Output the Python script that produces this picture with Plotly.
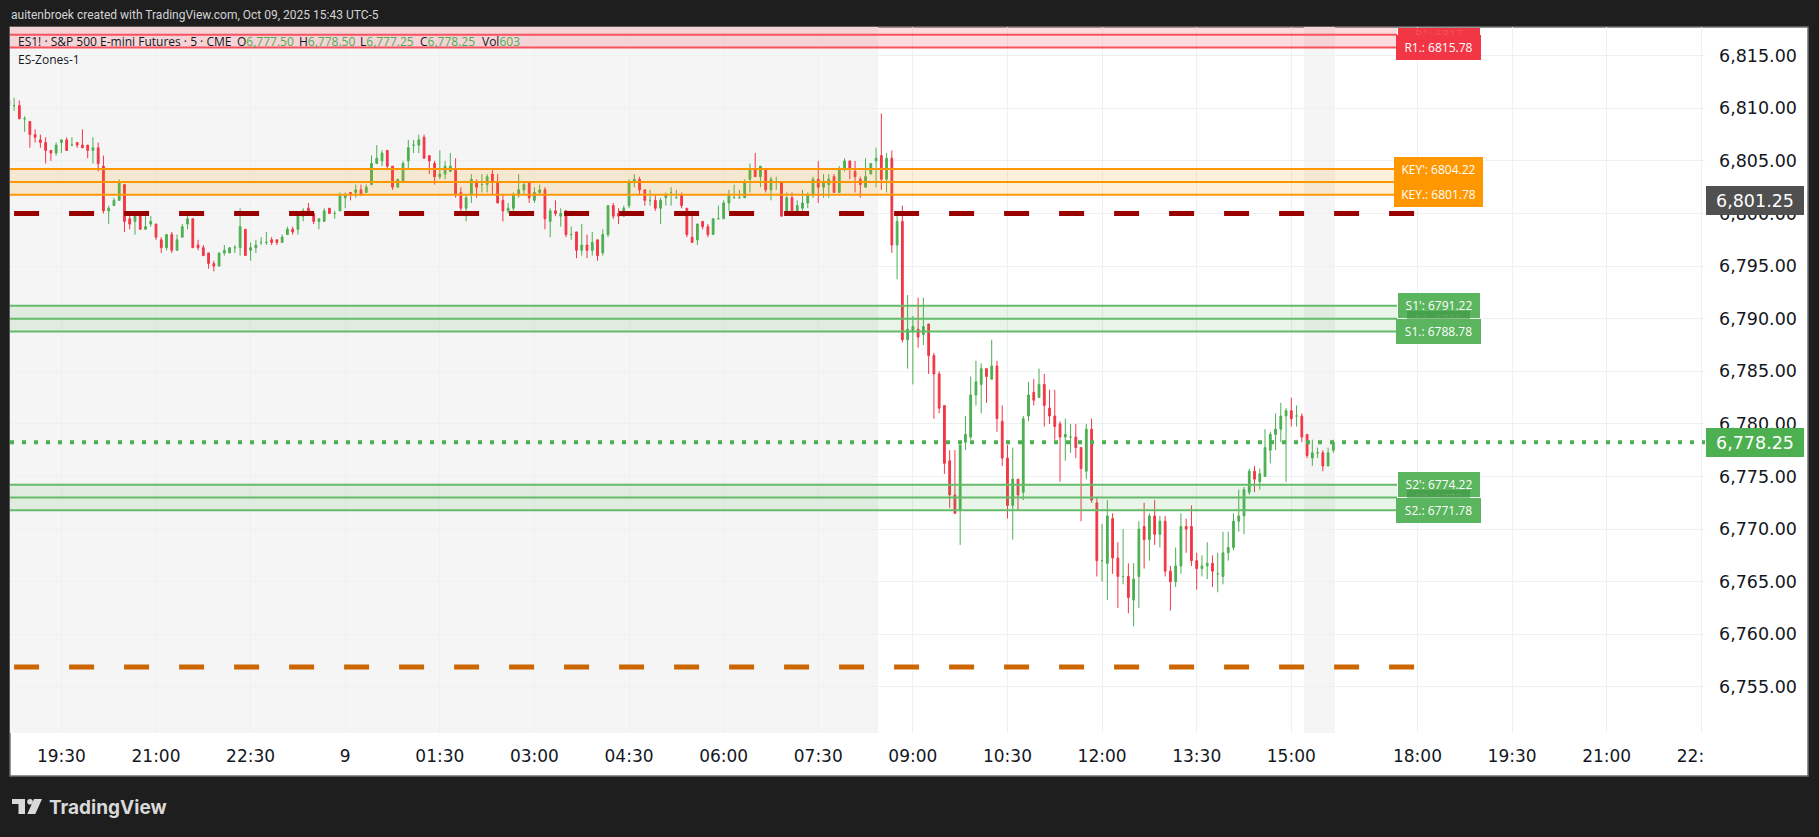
import numpy as np
import plotly.graph_objects as go

# prices are kept as ticks (0.25 pts) away from 6800
BASE = 6800
TICK = 0.25
FIRST_BAR = -10  # bar 0 is the 19:30 candle

open_ticks = [
    43, 41, 41, 36, 35, 30, 28, 27, 24, 23,
    27, 28, 26, 27, 26, 26, 24, 25, 18, 1,
    3, 5, 11, -2, -3, 0, -6, -4, -4, -10,
    -13, -8, -14, -9, -4, -2, -12, -13, -15, -19,
    -20, -15, -15, -13, -13, -6, -14, -13, -11, -11,
    -10, -10, -11, -8, -6, -6, -1, 2, 0, -3,
    -3, 2, 0, 1, 6, 8, 8, 9, 8, 11,
    19, 20, 24, 18, 10, 12, 20, 26, 26, 29,
    22, 19, 14, 15, 16, 17, 8, 2, 7, 12,
    11, 11, 15, 12, 5, 1, 2, 7, 9, 12,
    5, 8, 9, -3, 1, -1, 1, -8, -7, -14,
    -12, -14, -10, -15, -8, 3, 0, -1, 3, 12,
    13, 9, 5, 5, 2, 6, 8, 6, 7, 2,
    -9, -10, -3, -5, -8, -2, -2, 4, 6, 6,
    6, 13, 17, 14, 17, 9, 12, 12, 0, 6,
    1, 2, 4, 7, 13, 10, 11, 14, 8, 17,
    20, 16, 13, 10, 15, 20, 22, 13, 21, -12,
    -3, -48, -45, -44, -46, -42, -54, -61, -73, -94,
    -107, -113, -87, -85, -69, -65, -59, -63, -58, -79,
    -93, -111, -101, -106, -77, -68, -70, -65, -74, -77,
    -80, -85, -85, -85, -89, -98, -82, -110, -132, -133,
    -116, -131, -138, -138, -147, -138, -119, -124, -115, -122,
    -117, -136, -140, -134, -119, -119, -132, -135, -134, -133,
    -137, -138, -129, -127, -117, -115, -106, -98, -102, -100,
    -90, -84, -82, -77, -75, -77, -77, -84, -93, -91,
    -91, -96, -90,
]
high_ticks = [
    43, 44, 43, 37, 35, 32, 30, 29, 24, 27,
    28, 29, 29, 27, 32, 26, 29, 27, 22, 3,
    6, 13, 11, 0, -1, 1, -1, -1, -4, -9,
    -8, -7, -8, -4, 0, -2, -10, -12, -15, -18,
    -15, -12, -13, -12, 2, -6, -11, -10, -9, -7,
    -9, -10, -8, -5, -5, 0, 2, 4, 0, -2,
    2, 2, 1, 8, 8, 8, 11, 11, 11, 22,
    26, 24, 24, 18, 13, 20, 28, 28, 30, 30,
    22, 20, 24, 20, 23, 21, 10, 7, 15, 13,
    15, 15, 17, 15, 7, 4, 8, 15, 12, 12,
    10, 11, 10, 2, 5, 2, 1, -5, -7, -4,
    -8, -7, -10, -6, 3, 4, 2, 3, 13, 15,
    14, 9, 9, 7, 6, 8, 10, 9, 8, 2,
    -1, -4, -3, -4, -2, 3, 5, 9, 11, 9,
    13, 19, 23, 18, 17, 14, 14, 12, 8, 8,
    5, 9, 8, 14, 20, 15, 15, 15, 18, 21,
    20, 20, 14, 21, 19, 25, 38, 23, 24, 0,
    3, -31, -39, -32, -32, -42, -53, -60, -73, -90,
    -90, -88, -77, -62, -56, -57, -59, -48, -56, -73,
    -88, -89, -101, -77, -64, -63, -59, -61, -67, -67,
    -79, -78, -80, -80, -89, -80, -78, -108, -118, -109,
    -114, -125, -120, -133, -133, -117, -110, -114, -109, -115,
    -115, -134, -127, -114, -116, -111, -129, -130, -125, -130,
    -129, -121, -121, -114, -105, -104, -97, -96, -97, -82,
    -83, -76, -72, -74, -70, -73, -76, -84, -86, -89,
    -90, -89, -86,
]
low_ticks = [
    41, 39, 36, 31, 25, 27, 25, 19, 20, 22,
    23, 24, 26, 25, 25, 21, 19, 16, 0, -4,
    3, 5, -7, -6, -8, -6, -6, -5, -10, -15,
    -14, -15, -14, -9, -6, -13, -14, -16, -21, -22,
    -20, -16, -15, -15, -16, -16, -18, -15, -12, -12,
    -12, -12, -11, -8, -8, -8, -3, 0, -4, -6,
    -3, 0, -2, 1, 2, 5, 6, 7, 8, 11,
    19, 18, 17, 9, 10, 12, 17, 23, 23, 21,
    15, 11, 13, 13, 16, 6, 1, -3, 4, 6,
    8, 8, 7, 4, -3, 0, 1, 6, 7, 4,
    4, 7, -6, -9, -1, -5, -9, -10, -17, -16,
    -17, -16, -18, -16, -9, -2, -4, -1, 2, 10,
    7, 3, 3, 1, -4, 3, 3, 6, 2, -9,
    -11, -12, -6, -9, -8, -2, -2, 1, 6, 6,
    6, 8, 14, 10, 8, 5, 9, -1, 0, 0,
    0, 1, 2, 6, 4, 6, 6, 8, 8, 16,
    13, 8, 6, 10, 15, 10, 9, 8, -15, -25,
    -49, -59, -65, -51, -50, -61, -78, -76, -99, -112,
    -114, -126, -90, -86, -73, -76, -72, -63, -83, -96,
    -116, -124, -113, -109, -79, -73, -70, -81, -80, -86,
    -102, -94, -91, -93, -117, -101, -110, -138, -140, -147,
    -137, -150, -141, -152, -157, -150, -135, -132, -126, -127,
    -138, -151, -142, -137, -129, -134, -143, -138, -139, -142,
    -144, -141, -132, -128, -121, -122, -107, -106, -105, -100,
    -95, -90, -87, -102, -81, -81, -87, -93, -96, -93,
    -98, -96, -91,
]
close_ticks = [
    41, 41, 36, 36, 30, 29, 27, 24, 23, 26,
    28, 24, 26, 26, 25, 24, 25, 19, 1, 2,
    5, 12, -3, -4, -1, -6, -5, -3, -9, -13,
    -8, -14, -10, -5, -2, -13, -13, -16, -19, -20,
    -15, -14, -13, -13, -5, -16, -13, -12, -11, -11,
    -11, -11, -9, -6, -7, -1, 1, 1, -3, -2,
    1, 0, 0, 7, 7, 7, 9, 7, 10, 19,
    21, 23, 18, 10, 13, 19, 25, 26, 28, 21,
    20, 14, 15, 18, 18, 7, 2, 6, 13, 10,
    11, 14, 12, 4, 1, 2, 7, 9, 11, 6,
    8, 9, -2, 1, 0, 0, -8, -8, -14, -12,
    -14, -11, -16, -8, 3, -1, -1, 2, 12, 13,
    9, 5, 5, 2, 5, 7, 8, 6, 3, -8,
    -11, -4, -5, -8, -2, -2, 4, 7, 6, 6,
    12, 17, 14, 18, 9, 13, 12, -1, 6, 1,
    3, 4, 7, 13, 10, 12, 13, 8, 17, 20,
    17, 14, 11, 14, 19, 21, 13, 21, -12, -3,
    -48, -44, -43, -47, -43, -54, -61, -74, -95, -107,
    -114, -88, -84, -69, -64, -59, -62, -58, -78, -93,
    -111, -101, -107, -78, -69, -71, -65, -73, -77, -81,
    -85, -84, -85, -89, -97, -82, -109, -132, -132, -115,
    -131, -138, -138, -146, -139, -120, -124, -115, -122, -117,
    -136, -140, -134, -119, -120, -132, -135, -134, -133, -136,
    -137, -129, -127, -117, -115, -105, -98, -101, -99, -89,
    -84, -82, -77, -75, -78, -77, -85, -92, -91, -91,
    -96, -91, -87,
]

tick_bars = [0, 18, 36, 54, 72, 90, 108, 126, 144, 162, 180, 198, 216, 234, 258, 276, 294, 312]
tick_labels = ["19:30", "21:00", "22:30", "9", "01:30", "03:00", "04:30", "06:00", "07:30",
               "09:00", "10:30", "12:00", "13:30", "15:00", "18:00", "19:30", "21:00",
               "22:\u00a0\u00a0\u00a0\u00a0"]
price_ticks = [6755, 6760, 6765, 6770, 6775, 6780, 6785, 6790, 6795, 6800, 6805, 6810, 6815]

# zones: top, middle, bottom price
zone_tops = [6818.22, 6804.22, 6791.22, 6774.22]
zone_mids = [6817, 6803, 6790, 6773]
zone_bottoms = [6815.78, 6801.78, 6788.78, 6771.78]

label_texts = ["R1: 6817", "R1.: 6815.78", "KEY': 6804.22", "KEY: 6803", "KEY.: 6801.78",
               "S1': 6791.22", "S1: 6790", "S1.: 6788.78",
               "S2': 6774.22", "S2: 6773", "S2.: 6771.78"]
label_prices = [6817, 6815.78, 6804.22, 6803, 6801.78, 6791.22, 6790, 6788.78, 6774.22, 6773, 6771.78]

resistance_level = 6800
support_level = 6756.9
level_start_bar = -9
level_end_bar = 258
last_price = 6778.25
prev_price = 6801.25
session_bars = [(-10, 155.4), (236.4, 242.3)]

GREEN = "#4caf50"
RED = "#f23645"
ORANGE = "#ff9800"
ZONE_GREEN = "#66bb6a"
ZONE_RED = "#f7525f"
LABEL_GREEN = "#5ab55e"
DARK = "#1e1e1e"
FONT = "DejaVu Sans"
SMALL_FONT = "Open Sans"

# pixel box of the price pane
W, H = 1819, 837
LEFT, RIGHT, TOP, BOTTOM = 10, 1705, 27, 733
BAR_PX = 5.256
BAR0_PX = 61.4


def px_x(x):
    return (x - LEFT) / (RIGHT - LEFT)


def px_y(y):
    return (BOTTOM - y) / (BOTTOM - TOP)


def bar_at(x):
    return (x - BAR0_PX) / BAR_PX


def price_at(y):
    return 6800 + (213.5 - y) / 10.52


def to_price(ticks):
    return BASE + np.array(ticks) * TICK


bars = np.arange(FIRST_BAR, FIRST_BAR + len(close_ticks))
opens, highs, lows, closes = map(to_price, (open_ticks, high_ticks, low_ticks, close_ticks))
up = closes >= opens

fig = go.Figure()
for mask, color in ((up, GREEN), (~up, RED)):
    style = dict(line=dict(color=color, width=1), fillcolor=color)
    fig.add_trace(go.Candlestick(
        x=bars[mask], open=opens[mask], high=highs[mask], low=lows[mask], close=closes[mask],
        increasing=style, decreasing=style, whiskerwidth=0, hoverinfo="skip", showlegend=False,
    ))

shapes = [
    # white chart panel with its thin frame
    dict(type="rect", xref="paper", yref="paper", layer="below",
         x0=px_x(10), x1=px_x(1808), y0=px_y(776), y1=px_y(27),
         fillcolor="white", line=dict(color="#707070", width=1.5)),
]
for x0, x1 in session_bars:
    shapes.append(dict(type="rect", xref="x", yref="paper", layer="below", x0=x0, x1=x1, y0=0, y1=1,
                       fillcolor="#f5f5f5", line_width=0))

zone_end = bar_at(1397)
zone_colors = [ZONE_RED, ORANGE, ZONE_GREEN, ZONE_GREEN]
zone_fills = ["rgba(247,82,95,0.2)", "rgba(255,152,0,0.15)", "rgba(76,175,80,0.13)", "rgba(76,175,80,0.13)"]
for top, mid, bottom, color, fill in zip(zone_tops, zone_mids, zone_bottoms, zone_colors, zone_fills):
    shapes.append(dict(type="rect", xref="x", yref="y", layer="above", x0=-10, x1=zone_end,
                       y0=bottom, y1=top, fillcolor=fill, line_width=0))
    for level in (top, mid, bottom):
        shapes.append(dict(type="line", xref="x", yref="y", layer="above", x0=-10, x1=zone_end,
                           y0=level, y1=level, line=dict(color=color, width=2)))

for level, color in ((resistance_level, "#990000"), (support_level, "#cc6600")):
    shapes.append(dict(type="line", xref="x", yref="y", layer="above", x0=level_start_bar, x1=level_end_bar,
                       y0=level, y1=level, line=dict(color=color, width=5, dash="25px,30px")))
shapes.append(dict(type="line", xref="paper", yref="y", layer="above", x0=0, x1=1,
                   y0=last_price, y1=last_price, line=dict(color=GREEN, width=4, dash="4px,8px")))

# TradingView logo, traced in pixels
logo = [
    [(12, 799), (25, 799), (25, 814), (18.5, 814), (18.5, 804), (12, 804)],
    [(34, 799), (42, 799), (35.3, 814), (27.3, 814)],
]
for pts in logo:
    path = "M " + " L ".join(f"{px_x(x):.5f},{px_y(y):.5f}" for x, y in pts) + " Z"
    shapes.append(dict(type="path", xref="paper", yref="paper", path=path, fillcolor="#d9d9d9", line_width=0))
shapes.append(dict(type="circle", xref="paper", yref="paper", x0=px_x(27.2), x1=px_x(32.8),
                   y0=px_y(804.5), y1=px_y(798.9), fillcolor="#d9d9d9", line_width=0))

annotations = []


def add_text(x, y, text, size=12, color="#131722", family=SMALL_FONT, **kw):
    annotations.append(dict(xref="paper", yref="paper", x=px_x(x), y=px_y(y), text=text, showarrow=False,
                            xanchor="left", yanchor="middle", font=dict(size=size, color=color, family=family),
                            **kw))


add_text(9, 15, "auitenbroek created with TradingView.com, Oct 09, 2025 15:43 UTC-5", size=12, color="#d4d4d4",
         family="Roboto")
add_text(16, 41.5, "ES1! · S&P 500 E-mini Futures · 5 · CME")
for x, head, value in ((235, "O", "6,777.50"), (297, "H", "6,778.50"), (358, "L", "6,777.25"),
                       (418, "C", "6,778.25"), (480, "Vol", "603")):
    add_text(x, 41.5, f'{head}<span style="color:{GREEN}">{value}</span>')
add_text(16, 59, "ES-Zones-1")
add_text(47, 807, "<b>TradingView</b>", size=19, color="#d9d9d9", family="Inter")

for text, price in zip(label_texts, label_prices):
    is_mid = "." not in text and "'" not in text
    color = LABEL_GREEN if text[0] == "S" else ORANGE if text[0] == "K" else RED
    if text.startswith("R1:"):
        box = dict(width=82, height=13, bgcolor=RED, font_color="rgba(255,255,255,0.15)")
    elif text.startswith("KEY:"):
        box = dict(width=60, height=16, bgcolor=ORANGE, font_color=ORANGE)
    elif is_mid:
        box = dict(width=63, height=16, bgcolor="rgba(56,142,60,0.55)", font_color="rgba(255,255,255,0.12)")
    elif text.startswith("KEY"):
        box = dict(width=89, height=25, bgcolor=color, font_color="white")
    elif "." in text[:3]:
        box = dict(width=85, height=25, bgcolor=color, font_color="white")
    else:
        box = dict(width=82, height=25, bgcolor=color, font_color="white")
    annotations.append(dict(
        xref="x", yref="y", x=bar_at(1438.5), y=price, text=text, showarrow=False,
        xanchor="center", yanchor="middle", width=box["width"], height=box["height"], borderpad=0, borderwidth=0,
        bgcolor=box["bgcolor"], font=dict(size=12, color=box["font_color"], family=SMALL_FONT),
    ))

for price, color in ((prev_price, "#505050"), (last_price, GREEN)):
    annotations.append(dict(
        xref="paper", yref="y", x=px_x(1755), y=price, text=f"{price:,.2f}", showarrow=False,
        xanchor="center", yanchor="middle", width=98, height=29, borderpad=0, borderwidth=0,
        bgcolor=color, font=dict(size=17.5, color="white", family=FONT),
    ))

fig.update_layout(
    width=W,
    height=H,
    margin=dict(l=LEFT, r=W - RIGHT, t=TOP, b=H - BOTTOM, autoexpand=False),
    paper_bgcolor=DARK,
    plot_bgcolor="white",
    showlegend=False,
    boxmode="overlay",
    boxgap=0.52,
    shapes=shapes,
    annotations=annotations,
    xaxis=dict(
        range=[bar_at(LEFT), bar_at(RIGHT)],
        tickmode="array", tickvals=tick_bars, ticktext=tick_labels,
        showgrid=True, gridcolor="#eef1f1", gridwidth=1, zeroline=False, showline=False,
        ticks="", ticklabelstandoff=11, tickangle=0,
        tickfont=dict(size=17, color="#131722", family=FONT),
        rangeslider=dict(visible=False),
    ),
    yaxis=dict(
        range=[price_at(BOTTOM), price_at(TOP)], side="right",
        tickmode="array", tickvals=price_ticks, tickformat=",.2f",
        showgrid=True, gridcolor="#eef1f1", gridwidth=1, zeroline=False, showline=False,
        ticks="", ticklabelstandoff=13,
        tickfont=dict(size=17.5, color="#131722", family=FONT),
    ),
)

fig.write_html("out.html", config=dict(displayModeBar=False),
               post_script="document.body.style.margin='0';document.body.style.overflow='hidden';")
